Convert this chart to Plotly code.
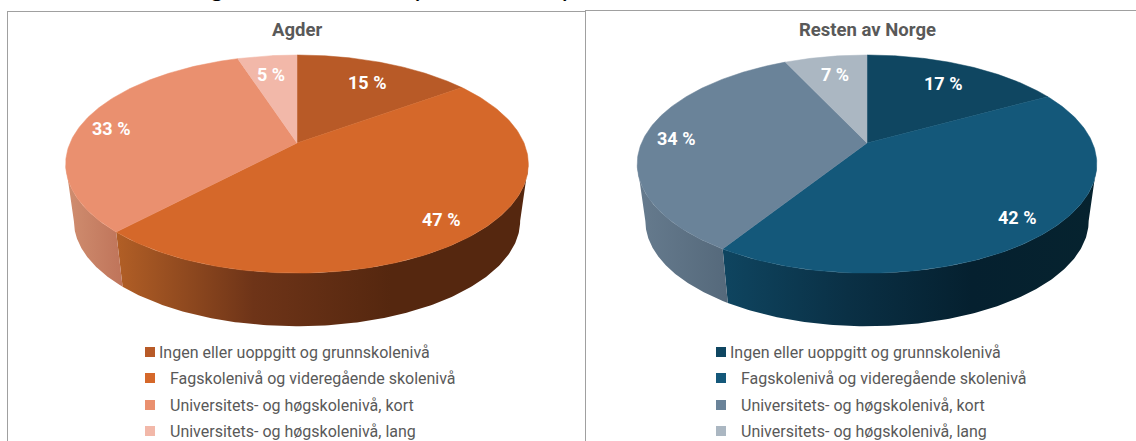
import numpy as np
import plotly.graph_objects as go

# --- data ---
categories = ["Ingen eller uoppgitt og grunnskolenivå",
              "Fagskolenivå og videregående skolenivå",
              "Universitets- og høgskolenivå, kort",
              "Universitets- og høgskolenivå, lang"]
agder_values = [15, 47, 33, 5]
resten_values = [17, 42, 34, 7]
chart_titles = ["Agder", "Resten av Norge"]

# --- styles ---
agder_colors = ["#B85A27", "#D5682A", "#EA906F", "#F2B8A9"]
resten_colors = ["#0F4661", "#14587A", "#6A8399", "#ABB7C2"]
agder_walls = [["#8A4420", "#8A4420"], ["#B25F26", "#6E3418", "#55270F", "#55270F"],
               ["#D08E70", "#BF745A"], ["#C08A78", "#C08A78"]]
resten_walls = [["#0A3045", "#0A3045"], ["#0F4560", "#0A3045", "#05202F", "#06232F"],
                ["#667B8E", "#55697B"], ["#7F8A94", "#7F8A94"]]
label_xy_agder = [(367, 82), (441, 219), (111, 128), (271, 74)]
label_xy_resten = [(943, 83), (1017, 217), (676, 138), (835, 74)]

B, K = 105.0, 0.193               # perspective of the pie's top face
DEPTH = 0.0355                    # how far the bottom rim sits toward the nadir
NADIR_Y = 1770.0
FRONT_START = np.arccos(-K)       # right-hand silhouette of the disc
FRONT_END = 2 * np.pi - FRONT_START


def project(theta, cx, cy, a):
    X, Y = np.sin(theta), np.cos(theta)
    d = 1 + K * Y
    return cx + a * X / d, cy - B * Y / d


def lower(x, y, cx):
    return x + DEPTH * (cx - x), y + DEPTH * (NADIR_Y - y)


def scale_of(stops):
    n = len(stops) - 1
    return [[i / n, c] for i, c in enumerate(stops)]


fig = go.Figure()


def add_pie(values, colors, walls, cx, cy, a, title, labels, legend_swatch_x, legend_text_x):
    edges = 2 * np.pi * np.cumsum([0] + values) / sum(values)
    # only the part of the rim that faces the viewer gets a wall
    for i in range(len(values)):
        t0, t1 = max(edges[i], FRONT_START), min(edges[i + 1], FRONT_END)
        if t1 <= t0:
            continue
        t = np.linspace(t0, t1, 160)
        x, y = project(t, cx, cy, a)
        xb, yb = lower(x, y, cx)
        px = np.concatenate([x, xb[::-1], x[:1]])
        py = np.concatenate([y, yb[::-1], y[:1]])
        fig.add_trace(go.Scatter(
            x=px, y=py, mode="lines", line=dict(width=0), fill="toself",
            fillgradient=dict(type="horizontal", colorscale=scale_of(walls[i]),
                              start=float(px.min()), stop=float(px.max())),
            hoverinfo="skip", showlegend=False))
    for i in range(len(values)):
        t = np.linspace(edges[i], edges[i + 1], 160)
        x, y = project(t, cx, cy, a)
        px = np.concatenate([[cx], x, [cx]])
        py = np.concatenate([[cy], y, [cy]])
        fig.add_trace(go.Scatter(
            x=px, y=py, mode="lines", line=dict(width=0.5, color=colors[i]),
            fill="toself", fillcolor=colors[i], hoverinfo="skip", showlegend=False))
    for v, (lx, ly) in zip(values, labels):
        fig.add_annotation(x=lx, y=ly, text=f"<b>{v} %</b>", showarrow=False,
                           font=dict(family="Roboto", size=18, color="white"))
    fig.add_annotation(x=cx, y=30, text=f"<b>{title}</b>", showarrow=False,
                       font=dict(family="Roboto", size=18.5, color="#595959"))
    rows = [352, 378, 405, 431]
    fig.add_trace(go.Scatter(
        x=[legend_swatch_x] * 4, y=rows, mode="markers",
        marker=dict(symbol="square", size=10, color=colors, line=dict(width=0)),
        hoverinfo="skip", showlegend=False))
    for k, (name, ry) in enumerate(zip(categories, rows)):
        fig.add_annotation(x=legend_text_x[0] if k == 0 else legend_text_x[1], y=ry,
                           text=name, showarrow=False, xanchor="left",
                           font=dict(family="Roboto", size=16, color="#595959"))


add_pie(agder_values, agder_colors, agder_walls, 297, 143, 227.0, chart_titles[0],
        label_xy_agder, 150, (157, 168))
add_pie(resten_values, resten_colors, resten_walls, 867, 143, 225.5, chart_titles[1],
        label_xy_resten, 721, (728, 739))

# frame lines of the two pasted charts
LINE = dict(color="#A0A0A0", width=1)
for x0, y0, x1, y1 in [(7, 11.5, 585, 11.5), (7.5, 11, 7.5, 441),
                       (585, 10.5, 1136, 10.5), (585.5, 10, 585.5, 441)]:
    fig.add_shape(type="line", x0=x0, y0=y0, x1=x1, y1=y1, line=LINE)

# only the descenders of a slide heading show above the frames
for ch, hx in [("g", 217), ("(", 415), (")", 567)]:
    fig.add_annotation(x=hx, y=3, yanchor="bottom", text=ch, showarrow=False,
                       font=dict(family="Liberation Sans", size=28, color="#000000"))

fig.update_xaxes(visible=False, range=[0, 1136], fixedrange=True)
fig.update_yaxes(visible=False, range=[441, 0], fixedrange=True)
fig.update_layout(width=1136, height=441, margin=dict(l=0, r=0, t=0, b=0),
                  paper_bgcolor="white", plot_bgcolor="white", showlegend=False)
fig.write_html("out.html", config={"displayModeBar": False},
               post_script="document.body.style.margin='0';document.body.style.overflow='hidden';")
